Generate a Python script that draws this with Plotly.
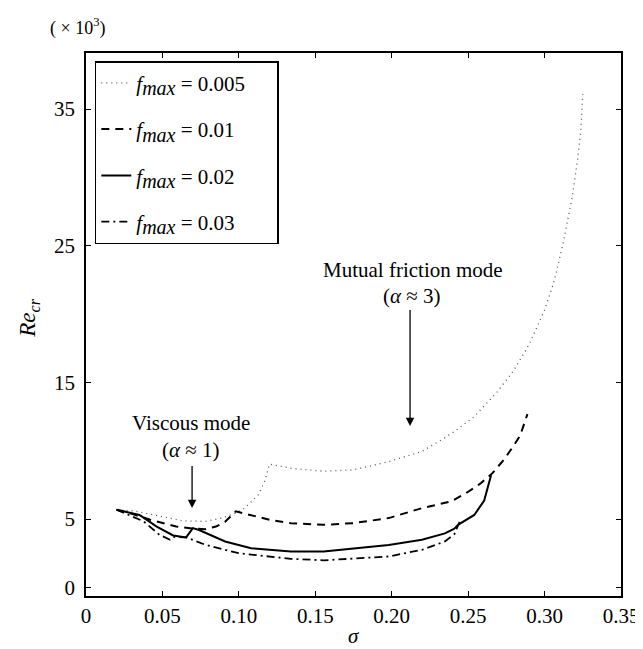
import plotly.graph_objects as go

# ---------------- data (Re in units of 10^3) ----------------
sigma_f005 = [0.020, 0.031, 0.042, 0.053, 0.063, 0.078, 0.089, 0.097, 0.104, 0.1127,
              0.117, 0.120, 0.135, 0.1555, 0.175, 0.198, 0.2198, 0.2326, 0.241, 0.254,
              0.269, 0.280, 0.290, 0.300, 0.306, 0.312, 0.318, 0.3215, 0.3237, 0.325]
re_f005 = [5.68, 5.60, 5.35, 5.07, 4.87, 4.83, 5.07, 5.40, 5.80, 6.78,
           7.78, 9.02, 8.70, 8.50, 8.60, 9.20, 9.95, 10.80, 11.40, 12.50,
           14.30, 15.90, 17.80, 20.30, 22.30, 25.10, 28.50, 31.20, 33.40, 36.10]

sigma_f01 = [0.020, 0.031, 0.042, 0.059, 0.070, 0.078, 0.085, 0.091, 0.098, 0.108,
             0.120, 0.134, 0.1555, 0.175, 0.198, 0.2198, 0.239, 0.2487, 0.2584, 0.2659,
             0.2733, 0.2787, 0.284, 0.2888]
re_f01 = [5.68, 5.35, 4.95, 4.46, 4.30, 4.26, 4.45, 4.80, 5.56, 5.30,
          4.95, 4.70, 4.58, 4.70, 5.07, 5.80, 6.29, 6.90, 7.63, 8.36,
          9.33, 10.19, 11.10, 12.68]

sigma_f02 = [0.020, 0.035, 0.046, 0.057, 0.0655, 0.0699, 0.074, 0.091, 0.108, 0.134,
             0.1555, 0.198, 0.2198, 0.2348, 0.241, 0.2434, 0.254, 0.2605, 0.265]
re_f02 = [5.68, 5.30, 4.46, 3.80, 3.66, 4.34, 4.20, 3.36, 2.87, 2.63,
          2.62, 3.10, 3.48, 3.95, 4.30, 4.58, 5.30, 6.35, 8.20]

sigma_f03 = [0.020, 0.0377, 0.048, 0.055, 0.058, 0.0655, 0.078, 0.0998, 0.134, 0.1555,
             0.198, 0.2198, 0.2348, 0.241, 0.2455]
re_f03 = [5.68, 4.83, 3.85, 3.48, 3.70, 3.66, 3.12, 2.50, 2.09, 1.98,
          2.26, 2.75, 3.36, 3.90, 5.07]

labels = ["0.005", "0.01", "0.02", "0.03"]
x_ticks = [0, 0.05, 0.10, 0.15, 0.20, 0.25, 0.30, 0.35]
x_ticktext = ["0", "0.05", "0.10", "0.15", "0.20", "0.25", "0.30", "0.35"]
y_ticks = [0, 5, 15, 25, 35]

FONT = "Liberation Serif"
FS = 21

series = [
    (sigma_f005, re_f005, dict(color="#555555", width=1.3, dash="1px,4px")),
    (sigma_f01, re_f01, dict(color="black", width=2, dash="8px,6px")),
    (sigma_f02, re_f02, dict(color="black", width=2, dash="solid")),
    (sigma_f03, re_f03, dict(color="black", width=1.8, dash="8px,4px,2px,4px")),
]

fig = go.Figure()
for i, ((xs, ys, ln), lab) in enumerate(zip(series, labels)):
    fig.add_trace(go.Scatter(
        x=xs, y=ys, mode="lines", line=ln,
        name=("<i>f</i><sub><span style=\"font-size:%dpx\"><i>max</i></span></sub> = " % (FS - 1))
             + lab + "&nbsp;" * 5,
        legendgroup="g%d" % i,
    ))

fig.update_layout(
    width=643, height=649,
    margin=dict(l=78, r=20, t=45, b=61),
    plot_bgcolor="white", paper_bgcolor="white",
    font=dict(family=FONT, size=FS, color="black"),
    showlegend=True,
    legend=dict(
        x=0.0165, y=0.985, xanchor="left", yanchor="top",
        bordercolor="black", borderwidth=1.5, bgcolor="white",
        font=dict(family=FONT, size=FS),
        tracegroupgap=16,
    ),
    xaxis=dict(
        range=[0, 0.35], tickvals=x_ticks, ticktext=x_ticktext,
        showgrid=False, zeroline=False, showline=True, linecolor="black", linewidth=1.5,
        mirror="ticks", ticks="inside", ticklen=5, tickwidth=1, tickcolor="black",
        tickfont=dict(family=FONT, size=FS),
    ),
    yaxis=dict(
        range=[-0.63, 39.1], tickvals=y_ticks,
        showgrid=False, zeroline=False, showline=True, linecolor="black", linewidth=1.5,
        mirror="ticks", ticks="inside", ticklen=5, tickwidth=1, tickcolor="black",
        tickfont=dict(family=FONT, size=FS), ticklabelstandoff=5,
    ),
)

annotations = [
    # axis titles
    dict(x=0.5, y=-0.074, xref="paper", yref="paper", text="<i>σ</i>", showarrow=False,
         font=dict(family=FONT, size=21), xanchor="center", yanchor="middle"),
    dict(x=-0.108, y=0.511, xref="paper", yref="paper", text="<i>Re</i><sub><i>cr</i></sub>",
         showarrow=False, textangle=-90, font=dict(family=FONT, size=23),
         xanchor="center", yanchor="middle"),
    dict(x=-0.015, y=1.048, xref="paper", yref="paper", text="(&nbsp;×&nbsp;10<sup>3</sup>)",
         showarrow=False, font=dict(family=FONT, size=18), xanchor="center", yanchor="middle"),
    # mutual friction mode
    dict(x=0.214, y=23.2, xref="x", yref="y", text="Mutual friction mode", showarrow=False,
         font=dict(family=FONT, size=FS), xanchor="center", yanchor="middle"),
    dict(x=0.213, y=21.3, xref="x", yref="y", text="(<i>α</i> ≈ 3)", showarrow=False,
         font=dict(family=FONT, size=FS), xanchor="center", yanchor="middle"),
    dict(x=0.212, y=11.8, ax=0.212, ay=20.4, xref="x", yref="y", axref="x", ayref="y",
         text="", showarrow=True, arrowhead=2, arrowsize=1.3, arrowwidth=1.3, arrowcolor="black"),
    # viscous mode
    dict(x=0.0685, y=12.0, xref="x", yref="y", text="Viscous mode", showarrow=False,
         font=dict(family=FONT, size=FS), xanchor="center", yanchor="middle"),
    dict(x=0.0685, y=10.05, xref="x", yref="y", text="(<i>α</i> ≈ 1)", showarrow=False,
         font=dict(family=FONT, size=FS), xanchor="center", yanchor="middle"),
    dict(x=0.0694, y=5.8, ax=0.0694, ay=9.0, xref="x", yref="y", axref="x", ayref="y",
         text="", showarrow=True, arrowhead=2, arrowsize=1.3, arrowwidth=1.3, arrowcolor="black"),
]
fig.update_layout(annotations=annotations)

fig.write_html("out.html")
